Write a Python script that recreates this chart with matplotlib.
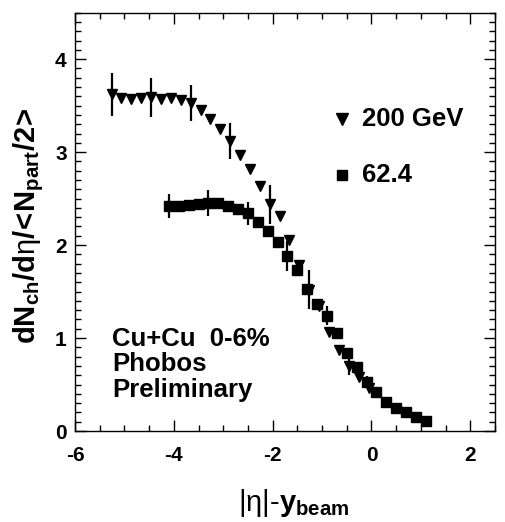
import numpy as np
import matplotlib
matplotlib.use("Agg")
import matplotlib.pyplot as plt
from matplotlib.ticker import MultipleLocator

plt.rcParams['font.family'] = ['Liberation Sans', 'DejaVu Sans']
plt.rcParams['mathtext.fontset'] = 'custom'
plt.rcParams['mathtext.rm'] = 'Liberation Sans'
plt.rcParams['mathtext.bf'] = 'Liberation Sans:bold'
plt.rcParams['mathtext.it'] = 'Liberation Sans:italic'

# 200 GeV Cu+Cu (triangles): |eta|-y_beam, dN/deta/<Npart/2>
x200 = [-5.26, -5.06, -4.86, -4.66, -4.46, -4.26, -4.06, -3.86, -3.66, -3.46,
        -3.26, -3.06, -2.86, -2.66, -2.46, -2.26, -2.06, -1.86, -1.66, -1.46,
        -1.26, -1.06, -0.86, -0.66, -0.46, -0.26, -0.06]
y200 = [3.62, 3.58, 3.57, 3.58, 3.59, 3.57, 3.58, 3.56, 3.53, 3.45,
        3.36, 3.25, 3.12, 2.97, 2.82, 2.64, 2.44, 2.31, 2.06, 1.79,
        1.52, 1.34, 1.07, 0.87, 0.70, 0.58, 0.46]
e200 = [0.23, np.nan, np.nan, np.nan, 0.21, np.nan, np.nan, np.nan, 0.19, np.nan,
        np.nan, np.nan, 0.19, np.nan, np.nan, np.nan, 0.21, np.nan, np.nan, np.nan,
        0.21, np.nan, np.nan, np.nan, 0.10, np.nan, np.nan]

# 62.4 GeV Cu+Cu (squares)
x62 = [-4.1, -3.9, -3.7, -3.5, -3.3, -3.1, -2.9, -2.7, -2.5, -2.3,
       -2.1, -1.9, -1.7, -1.5, -1.3, -1.1, -0.9, -0.7, -0.5, -0.3,
       -0.1, 0.1, 0.3, 0.5, 0.7, 0.9, 1.1]
y62 = [2.42, 2.42, 2.43, 2.44, 2.45, 2.45, 2.42, 2.39, 2.34, 2.25,
       2.15, 2.03, 1.88, 1.73, 1.53, 1.37, 1.24, 1.05, 0.84, 0.69,
       0.53, 0.42, 0.31, 0.25, 0.20, 0.15, 0.11]
e62 = [0.13, np.nan, np.nan, np.nan, 0.14, np.nan, np.nan, np.nan, 0.12, np.nan,
       np.nan, np.nan, 0.16, np.nan, np.nan, np.nan, 0.10, np.nan, np.nan, np.nan,
       0.06, np.nan, np.nan, np.nan, 0.04, np.nan, np.nan]

xticks = [-6, -4, -2, 0, 2]
yticks = [0, 1, 2, 3, 4]

fig = plt.figure(figsize=(5.05, 5.22), dpi=100)
ax = fig.add_axes([0.1485, 0.1743, 0.8317, 0.8014])

for xs, ys, es in [(x200, y200, e200), (x62, y62, e62)]:
    xs = np.array(xs); ys = np.array(ys); es = np.array(es)
    m = ~np.isnan(es)
    ax.errorbar(xs[m], ys[m], yerr=es[m], fmt='none', ecolor='black',
                elinewidth=1.6, capsize=0, zorder=2)

ax.plot(x200, y200, linestyle='none', marker='v', markersize=7.5,
        color='black', zorder=3)
ax.plot(x62, y62, linestyle='none', marker='s', markersize=7.5,
        color='black', zorder=3)

ax.set_xlim(-6, 2.5)
ax.set_ylim(0, 4.5)
ax.set_xticks(xticks)
ax.set_yticks(yticks)
ax.set_xticklabels([str(t) for t in xticks])
ax.set_yticklabels([str(t) for t in yticks])
ax.xaxis.set_minor_locator(MultipleLocator(0.5))
ax.yaxis.set_minor_locator(MultipleLocator(0.1))
ax.tick_params(which='both', direction='in', top=True, right=True,
               width=1.0, color='black')
ax.tick_params(which='major', length=8)
ax.tick_params(which='minor', length=4)
ax.tick_params(axis='x', which='major', pad=11)
ax.tick_params(axis='y', which='major', pad=6)
for lab in ax.get_xticklabels() + ax.get_yticklabels():
    lab.set_fontweight('bold')
    lab.set_fontsize(15)
for sp in ax.spines.values():
    sp.set_linewidth(1.0)

ax.set_xlabel(r'$\mathrm{|\eta|}\mathbf{\text{-}y_{beam}}$', fontsize=21)
ax.xaxis.set_label_coords(0.52, -0.135)
ax.xaxis.label.set_va('top')
ax.set_ylabel(r'$\mathbf{dN_{ch}/d}\mathrm{\eta}\mathbf{/\!<\!N_{part}/2\!>}$',
              fontsize=21)
ax.yaxis.set_label_coords(-0.07, 0.49)

# legend
ax.plot([-0.6], [3.36], marker='v', markersize=8, color='black', linestyle='none')
ax.text(-0.2, 3.36, '200 GeV', fontsize=18.5, fontweight='bold', va='center', ha='left')
ax.plot([-0.6], [2.75], marker='s', markersize=7.5, color='black', linestyle='none')
ax.text(-0.2, 2.75, '62.4', fontsize=18.5, fontweight='bold', va='center', ha='left')

ax.text(-5.25, 1.12, 'Cu+Cu  0-6%\nPhobos\nPreliminary', fontsize=18.5,
        fontweight='bold', va='top', ha='left', linespacing=1.08)

fig.savefig('out.png', dpi=100, facecolor='white')
